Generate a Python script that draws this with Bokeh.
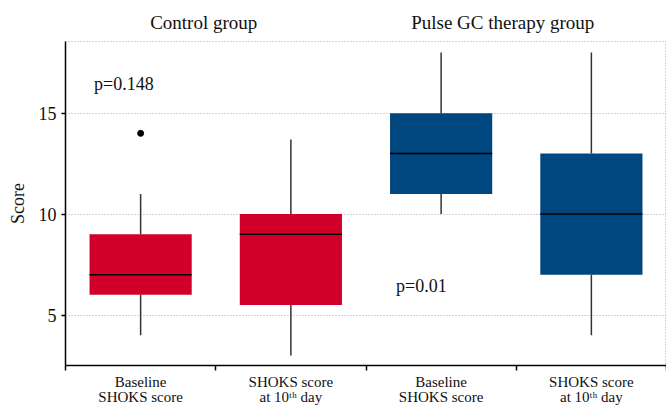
from bokeh.plotting import figure
from bokeh.models import Label, FixedTicker, Range1d, LinearAxis
from bokeh.embed import file_html
from bokeh.resources import INLINE

# ---- data ----
positions = [0.5, 1.5, 2.5, 3.5]
category_labels = ["Baseline\nSHOKS score", "SHOKS score\nat 10\u1d57\u02b0 day",
                   "Baseline\nSHOKS score", "SHOKS score\nat 10\u1d57\u02b0 day"]
groups = ["Control group", "Pulse GC therapy group"]
group_pos = [0.92, 2.91]
lower_whisker = [4, 3, 10, 4]
q1 = [6, 5.5, 11, 7]
median = [7, 9, 13, 10]
q3 = [9, 10, 15, 13]
upper_whisker = [11, 13.7, 18, 18]
outlier_x = [0.5]
outlier_y = [14]
colors = ["#D0002A", "#D0002A", "#00467F", "#00467F"]
p_texts = ["p=0.148", "p=0.01"]
p_x = [0.19, 2.2]
p_y = [16.45, 6.45]
y_ticks = [5, 10, 15]
x_bounds = [0, 1, 2, 3, 4]

FONT = "Liberation Serif"
BOX_W = 0.68

p = figure(width=666, height=407, output_backend="svg", toolbar_location=None,
           x_range=Range1d(0, 4), y_range=Range1d(2.5, 18.55), x_axis_type=None,
           min_border_left=65, min_border_right=0, min_border_top=41, min_border_bottom=40)
p.background_fill_color = "white"
p.border_fill_color = "white"
p.outline_line_color = "#aaaaaa"
p.outline_line_dash = "1 2"

# bottom axis: labels at box centres, tick marks at group boundaries
xb = LinearAxis(ticker=FixedTicker(ticks=positions, minor_ticks=x_bounds))
xb.major_label_overrides = {x: t for x, t in zip(positions, category_labels)}
xb.major_label_text_font = FONT
xb.major_label_text_font_size = "15px"
xb.major_label_text_line_height = 0.95
xb.major_label_text_color = "#111111"
xb.major_label_standoff = 3
xb.major_tick_line_color = None
xb.major_tick_out = 0
xb.major_tick_in = 0
xb.minor_tick_line_color = "black"
xb.minor_tick_line_width = 1.5
xb.minor_tick_out = 5
xb.minor_tick_in = 0
xb.axis_line_color = "black"
xb.axis_line_width = 1.5
p.add_layout(xb, "below")

# top axis: group titles
xt = LinearAxis(ticker=FixedTicker(ticks=group_pos))
xt.major_label_overrides = {x: t for x, t in zip(group_pos, groups)}
xt.major_label_text_font = FONT
xt.major_label_text_font_size = "19px"
xt.major_label_text_color = "#111111"
xt.major_label_standoff = 9
xt.major_tick_line_color = None
xt.major_tick_out = 0
xt.minor_tick_line_color = None
xt.axis_line_color = None
p.add_layout(xt, "above")

# grids
p.xgrid.ticker = FixedTicker(ticks=x_bounds)
p.ygrid.ticker = FixedTicker(ticks=y_ticks)
for g in (p.xgrid, p.ygrid):
    g.grid_line_color = "#aaaaaa"
    g.grid_line_dash = "1 2"
    g.grid_line_width = 1

# y axis
ya = p.yaxis[0]
ya.ticker = FixedTicker(ticks=y_ticks)
ya.axis_line_color = "black"
ya.axis_line_width = 1.5
ya.major_tick_line_color = "black"
ya.major_tick_line_width = 1.5
ya.major_tick_out = 4
ya.major_tick_in = 0
ya.minor_tick_line_color = None
ya.major_label_standoff = 5
ya.major_label_text_font = FONT
ya.major_label_text_font_size = "18px"
ya.major_label_text_color = "#111111"
ya.axis_label = "Score"
ya.axis_label_text_font = FONT
ya.axis_label_text_font_size = "18px"
ya.axis_label_text_font_style = "normal"
ya.axis_label_text_color = "#111111"
ya.axis_label_standoff = 8

# whiskers
p.segment(x0=positions, y0=q3, x1=positions, y1=upper_whisker, line_color="#333333", line_width=1.5)
p.segment(x0=positions, y0=q1, x1=positions, y1=lower_whisker, line_color="#333333", line_width=1.5)
# boxes
p.vbar(x=positions, width=BOX_W, bottom=q1, top=q3, fill_color=colors, line_color=None)
# medians
p.segment(x0=[x - BOX_W / 2 for x in positions], y0=median,
          x1=[x + BOX_W / 2 for x in positions], y1=median, line_color="black", line_width=1.5)
# outlier
p.scatter(x=outlier_x, y=outlier_y, size=6, color="black")

# p-values
for t, x, y in zip(p_texts, p_x, p_y):
    p.add_layout(Label(x=x, y=y, text=t, text_font=FONT, text_font_size="18px",
                       text_baseline="middle", text_align="left", text_color="#111111"))

open("out.html", "w").write(file_html(p, INLINE))
